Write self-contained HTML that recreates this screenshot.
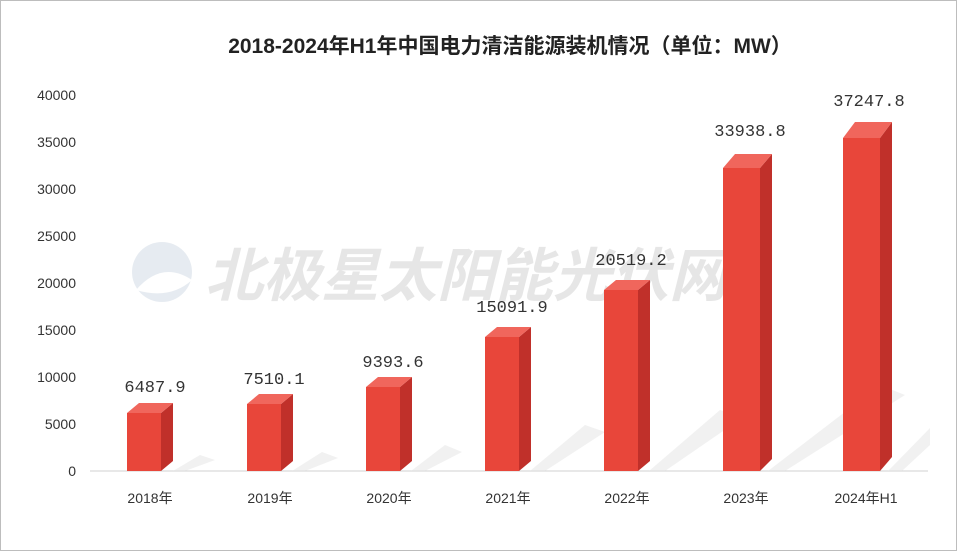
<!DOCTYPE html>
<html><head><meta charset="utf-8"><style>
body{margin:0;background:#fff}
svg{display:block}
</style></head><body>
<svg width="957" height="551" xmlns="http://www.w3.org/2000/svg" font-family="Liberation Sans, Noto Sans CJK SC, sans-serif">
<rect x="0.5" y="0.5" width="956" height="550" fill="#fff" stroke="#bdbdbd"/>
<text x="510" y="53" text-anchor="middle" font-size="21" font-weight="bold" fill="#222">2018-2024年H1年中国电力清洁能源装机情况（单位：MW）</text>
<g font-size="14" fill="#333" text-anchor="end">
<text x="76" y="100">40000</text><text x="76" y="147">35000</text><text x="76" y="194">30000</text>
<text x="76" y="241">25000</text><text x="76" y="288">20000</text><text x="76" y="335">15000</text>
<text x="76" y="382">10000</text><text x="76" y="429">5000</text><text x="76" y="476">0</text>
</g>
<line x1="90" y1="471" x2="928" y2="471" stroke="#d0d0d0"/>
<g opacity="0.25">
<circle cx="162" cy="272" r="30" fill="#9fb2c8"/>
<path d="M136 290 Q162 260 192 280 Q170 300 136 290Z" fill="#fff"/>
<text x="205" y="296" font-size="58" font-weight="bold" font-style="italic" fill="#a0a0a0">北极星太阳能光伏网</text>
</g>
<g fill="#e4e4e4" opacity="0.5">
<polygon points="173,471 200,455 215,460 185,471"/>
<polygon points="292,471 322,452 338,458 305,471"/>
<polygon points="411,471 445,445 462,452 425,471"/>
<polygon points="530,471 585,425 605,432 545,471"/>
<polygon points="649,471 720,410 742,418 665,471"/>
<polygon points="768,471 880,385 905,395 785,471"/>
<polygon points="888,471 930,428 930,445 902,471"/>
</g>
<g font-size="14" fill="#333" text-anchor="middle">
<text x="150" y="503">2018年</text><text x="270" y="503">2019年</text><text x="389" y="503">2020年</text>
<text x="508" y="503">2021年</text><text x="627" y="503">2022年</text><text x="746" y="503">2023年</text>
<text x="866" y="503">2024年H1</text>
</g>
<g font-size="17" fill="#333" text-anchor="middle" font-family="Liberation Mono, monospace">
<text x="155" y="392">6487.9</text>
<text x="274" y="384">7510.1</text>
<text x="393" y="367">9393.6</text>
<text x="512" y="312">15091.9</text>
<text x="631" y="265">20519.2</text>
<text x="750" y="136">33938.8</text>
<text x="869" y="106">37247.8</text>
</g>
<g fill="#e8463a">
<rect x="127" y="413" width="34" height="58"/>
<rect x="247" y="404" width="34" height="67"/>
<rect x="366" y="387" width="34" height="84"/>
<rect x="485" y="337" width="34" height="134"/>
<rect x="604" y="290" width="34" height="181"/>
<rect x="723" y="168" width="37" height="303"/>
<rect x="843" y="138" width="37" height="333"/>
</g>
<g fill="#c0302a">
<polygon points="161,413 173,403 173,461 161,471"/>
<polygon points="281,404 293,394 293,461 281,471"/>
<polygon points="400,387 412,377 412,461 400,471"/>
<polygon points="519,337 531,327 531,461 519,471"/>
<polygon points="638,290 650,280 650,461 638,471"/>
<polygon points="760,168 772,154 772,459 760,471"/>
<polygon points="880,138 892,122 892,457 880,471"/>
</g>
<g fill="#f0665c">
<polygon points="127,413 139,403 173,403 161,413"/>
<polygon points="247,404 259,394 293,394 281,404"/>
<polygon points="366,387 378,377 412,377 400,387"/>
<polygon points="485,337 497,327 531,327 519,337"/>
<polygon points="604,290 616,280 650,280 638,290"/>
<polygon points="723,168 735,154 772,154 760,168"/>
<polygon points="843,138 855,122 892,122 880,138"/>
</g>
</svg>
</body></html>
